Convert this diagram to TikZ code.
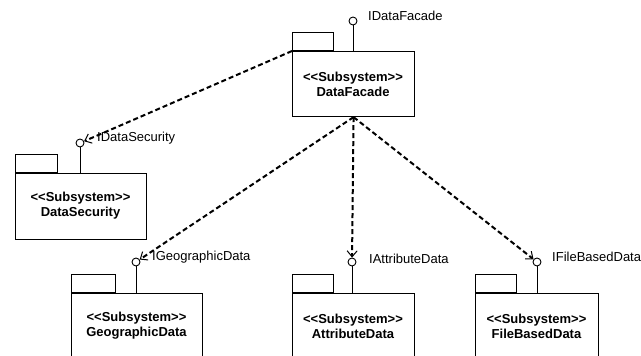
\documentclass[tikz,border=0pt]{standalone}
\usepackage{fontspec}
\setmainfont[Ligatures=NoCommon]{Liberation Sans}
\usetikzlibrary{arrows.meta}
\newcommand{\llt}{{<}{<}}
\newcommand{\ggt}{{>}{>}}
\tikzset{
  x=1pt, y=-1pt,
  box/.style={draw=black, line width=1.1pt, fill=white, inner sep=0pt, anchor=north west},
  tabbox/.style={box, minimum width=41pt, minimum height=18pt, anchor=south west},
  pkgtext/.style={inner sep=0pt, align=center, font=\fontsize{13}{15}\selectfont\bfseries},
  lolly/.style={circle, draw=black, line width=0.9pt, fill=white, inner sep=0pt, minimum size=8pt},
  stem/.style={draw=black, line width=0.9pt},
  iflabel/.style={inner sep=0pt, anchor=west, font=\fontsize{13}{15}\selectfont},
  dep/.style={draw=black, line width=2pt, dash pattern=on 5pt off 3pt,
    -{Straight Barb[length=6pt,width=10pt,line width=1pt]}},
}
\begin{document}
\begin{tikzpicture}
\useasboundingbox (0,0) rectangle (641,356);
\clip (0,0) rectangle (641,356);
% DataFacade
\node[box, minimum width=122pt, minimum height=65pt] (df) at (292,51) {};
\node[tabbox] (dftab) at (292,51) {};
\node[pkgtext] (dft) at (353,84) {\llt Subsystem\ggt\\DataFacade};
\node[lolly] (dfl) at (353,21) {};
\draw[stem] (dfl.south) -- (dfl.south |- df.north);
\node[iflabel] (dfll) at (368,16) {IDataFacade};
% DataSecurity
\node[box, minimum width=131pt, minimum height=66pt] (ds) at (15,173) {};
\node[tabbox, minimum width=42pt] (dstab) at (15,173) {};
\node[pkgtext] (dst) at (80.5,206) {\llt Subsystem\ggt\\DataSecurity};
\node[lolly] (dsl) at (80,143) {};
\draw[stem] (dsl.south) -- (dsl.south |- ds.north);
\node[iflabel] (dsll) at (97,138) {IDataSecurity};
% GeographicData
\node[box, minimum width=131pt, minimum height=90pt] (gd) at (71,293) {};
\node[tabbox, minimum width=44pt] (gdtab) at (71,293) {};
\node[pkgtext] (gdt) at (136.5,326) {\llt Subsystem\ggt\\GeographicData};
\node[lolly] (gdl) at (136,262) {};
\draw[stem] (gdl.south) -- (gdl.south |- gd.north);
\node[iflabel] (gdll) at (152,257) {IGeographicData};
% AttributeData
\node[box, minimum width=122pt, minimum height=90pt] (ad) at (292,293) {};
\node[tabbox] (adtab) at (292,293) {};
\node[pkgtext] (adt) at (353,326) {\llt Subsystem\ggt\\AttributeData};
\node[lolly] (adl) at (352,262) {};
\draw[stem] (adl.south) -- (adl.south |- ad.north);
\node[iflabel] (adll) at (369,259) {IAttributeData};
% FileBasedData
\node[box, minimum width=123pt, minimum height=90pt] (fb) at (475,293) {};
\node[tabbox] (fbtab) at (475,293) {};
\node[pkgtext] (fbt) at (536.5,326) {\llt Subsystem\ggt\\FileBasedData};
\node[lolly] (fbl) at (537,262) {};
\draw[stem] (fbl.south) -- (fbl.south |- fb.north);
\node[iflabel] (fbll) at (552,257) {IFileBasedData};
% dependencies
\draw[dep] (df.north west) -- (dsl);
\draw[dep] (df.south) -- (gdl);
\draw[dep] (df.south) -- (adl);
\draw[dep] (df.south) -- (fbl);
\end{tikzpicture}
\end{document}
